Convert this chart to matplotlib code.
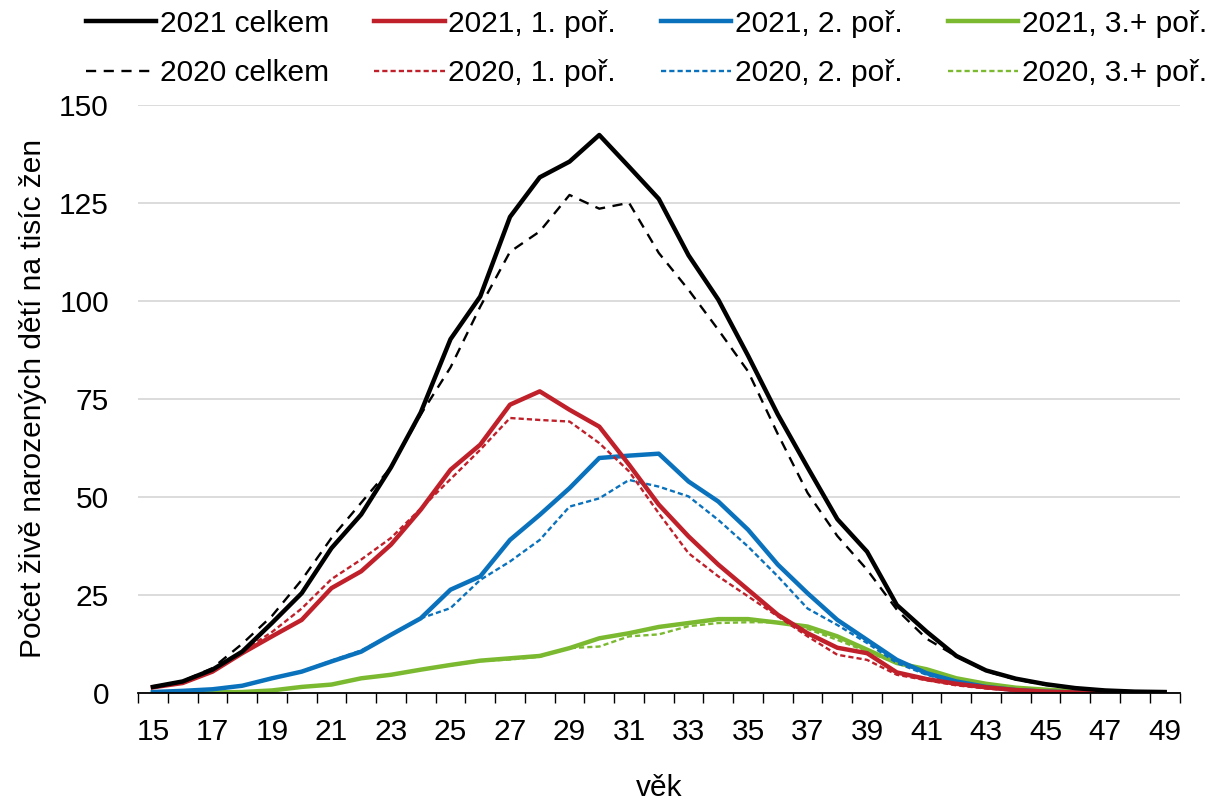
import matplotlib
matplotlib.use("Agg")
import matplotlib.pyplot as plt
import numpy as np

plt.rcParams['font.family'] = ['Liberation Sans', 'DejaVu Sans']

ages = list(range(15, 50))

celkem_2021 = [1.5, 2.9, 5.9, 10.5, 17.8, 25.4, 36.9, 45.5, 57.5, 71.5, 90.2, 101.1, 121.4, 131.5, 135.5, 142.3,
               134.2, 126.0, 111.6, 100.3, 86.0, 71.0, 57.5, 44.3, 36.0, 22.4, 15.6, 9.4, 5.7, 3.6, 2.2, 1.2, 0.6, 0.3, 0.2]
celkem_2020 = [1.4, 3.0, 6.3, 12.5, 19.6, 28.8, 39.5, 48.5, 57.5, 71.0, 83.0, 98.5, 112.5, 117.7, 127.0, 123.5,
               125.0, 112.2, 102.8, 92.6, 82.0, 66.0, 51.0, 40.0, 31.4, 21.2, 13.8, 9.3, 5.5, 3.4, 2.0, 1.1, 0.6, 0.3, 0.2]
prvni_2021 = [1.4, 2.5, 5.4, 10.1, 14.4, 18.6, 26.7, 31.0, 37.8, 46.7, 56.9, 63.3, 73.5, 76.9, 72.2, 67.9,
              58.2, 48.0, 39.9, 32.7, 26.3, 19.9, 15.2, 11.5, 10.1, 5.2, 3.5, 2.3, 1.4, 0.7, 0.3, 0.1, 0.05, 0.02, 0.01]
prvni_2020 = [1.3, 2.7, 5.8, 10.6, 15.5, 21.5, 29.0, 34.0, 39.5, 47.0, 54.5, 62.0, 70.1, 69.6, 69.2, 63.7,
              56.5, 45.8, 35.6, 29.7, 24.6, 19.5, 14.4, 9.7, 8.4, 4.6, 3.2, 1.9, 1.1, 0.5, 0.2, 0.1, 0.05, 0.02, 0.01]
druhe_2021 = [0.2, 0.5, 0.9, 1.8, 3.7, 5.4, 8.0, 10.5, 14.8, 19.0, 26.3, 29.7, 39.0, 45.4, 52.2, 59.9,
              60.5, 61.0, 53.9, 48.8, 41.6, 32.7, 25.4, 18.6, 13.5, 8.4, 5.0, 2.9, 1.5, 0.7, 0.3, 0.1, 0.05, 0.02, 0.01]
druhe_2020 = [0.2, 0.5, 0.9, 1.8, 3.6, 5.5, 8.2, 10.8, 14.8, 19.0, 21.6, 28.8, 33.5, 39.0, 47.5, 49.6,
              54.3, 52.6, 50.1, 44.1, 37.3, 29.7, 21.5, 17.3, 12.7, 7.6, 4.6, 2.5, 1.3, 0.6, 0.3, 0.1, 0.05, 0.02, 0.01]
treti_2021 = [0.0, 0.05, 0.1, 0.2, 0.6, 1.5, 2.1, 3.7, 4.6, 5.9, 7.1, 8.2, 8.8, 9.4, 11.4, 13.9,
              15.2, 16.8, 17.8, 18.8, 18.8, 17.9, 16.9, 14.4, 11.0, 7.6, 6.0, 3.7, 2.3, 1.3, 0.8, 0.4, 0.2, 0.1, 0.05]
treti_2020 = [0.0, 0.05, 0.1, 0.2, 0.6, 1.5, 2.1, 3.7, 4.6, 5.9, 7.0, 8.1, 8.5, 9.2, 11.4, 11.8,
              14.4, 14.9, 17.0, 17.8, 18.0, 18.0, 16.3, 13.5, 10.5, 7.5, 5.5, 3.5, 2.1, 1.2, 0.7, 0.4, 0.2, 0.1, 0.05]

x_ticklabels = [str(a) for a in range(15, 50, 2)]

RED = '#C0202A'
BLUE = '#0A72BD'
GREEN = '#7BBA30'
FS = 21.5

fig = plt.figure(figsize=(12.11, 8.0), dpi=100)
ax = fig.add_axes([0.114, 0.134, 0.860, 0.735])

lw_s = 3.2
lw_d = 1.7
series = [
    (celkem_2021, '2021 celkem', 'black', '-', lw_s, None),
    (celkem_2020, '2020 celkem', 'black', '--', lw_d, (4.3, 3.2)),
    (prvni_2021, '2021, 1. poř.', RED, '-', lw_s, None),
    (prvni_2020, '2020, 1. poř.', RED, '--', lw_d, (2.2, 1.3)),
    (druhe_2021, '2021, 2. poř.', BLUE, '-', lw_s, None),
    (druhe_2020, '2020, 2. poř.', BLUE, '--', lw_d, (2.2, 1.3)),
    (treti_2021, '2021, 3.+ poř.', GREEN, '-', lw_s, None),
    (treti_2020, '2020, 3.+ poř.', GREEN, '--', lw_d, (2.2, 1.3)),
]
draw_order = [6, 7, 4, 5, 2, 3, 0, 1]
handles = {}
for i in draw_order:
    vals, lab, col, ls, lw, dash = series[i]
    kw = dict(color=col, lw=lw, label=lab, solid_joinstyle='round')
    if dash is not None:
        line, = ax.plot(ages, vals, linestyle=(0, dash), **kw)
    else:
        line, = ax.plot(ages, vals, linestyle='-', **kw)
    handles[i] = line

ax.set_xlim(14.5, 49.5)
ax.set_ylim(0, 150)
ax.set_yticks([0, 25, 50, 75, 100, 125, 150])
ax.yaxis.grid(True, color='#D9D9D9', lw=1.3)
ax.set_axisbelow(True)
ax.tick_params(axis='y', length=0, labelsize=FS, pad=21)

ax.set_xticks(np.arange(14.5, 50.0, 1.0))
ax.set_xticklabels([])
ax.set_xticks(list(range(15, 50, 2)), minor=True)
ax.set_xticklabels(x_ticklabels, minor=True)
ax.tick_params(axis='x', which='major', direction='out', length=7, width=1.0, color='black')
ax.tick_params(axis='x', which='minor', length=0, labelsize=FS, pad=18)

for s in ['left', 'right', 'top']:
    ax.spines[s].set_visible(False)
ax.spines['bottom'].set_color('black')
ax.spines['bottom'].set_linewidth(1.3)

ax.set_xlabel('věk', fontsize=FS, labelpad=20)
ax.set_ylabel('Počet živě narozených dětí na tisíc žen', fontsize=FS, labelpad=9)

order = [0, 1, 2, 3, 4, 5, 6, 7]
leg = fig.legend([handles[i] for i in order], [series[i][1] for i in order],
                 loc='upper left', bbox_to_anchor=(0.054, 1.014), ncol=4, frameon=False,
                 fontsize=FS, handlelength=2.35, handletextpad=0.13, columnspacing=1.5,
                 labelspacing=0.72, borderaxespad=0.3)

fig.savefig('out.png', dpi=100)
